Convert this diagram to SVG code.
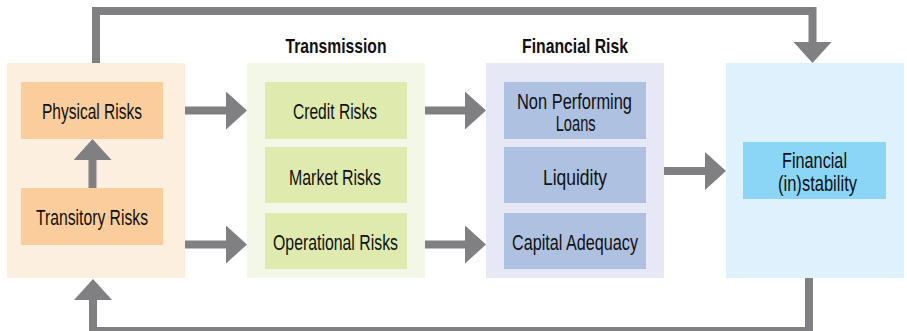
<svg xmlns="http://www.w3.org/2000/svg" width="907" height="331" viewBox="0 0 907 331">
<style>
text{font-family:"Liberation Sans Narrow","Liberation Sans",Arial,sans-serif;font-size:21.5px;fill:#111;text-anchor:middle}
.title{font-weight:bold;font-size:21px}
.conn{fill:none;stroke:#808083;stroke-width:8}
.p1{fill:#FDEFE0}.b1{fill:#FCCD9C}
.p2{fill:#F2F7E7}.b2{fill:#DFEAAF}
.p3{fill:#E6E8F5}.b3{fill:#AFC1E1}
.p4{fill:#DFF1FC}.b4{fill:#8BD6F6}
</style>
<defs>
<marker id="ah" markerUnits="userSpaceOnUse" markerWidth="21" markerHeight="38" refX="0" refY="19" orient="auto" viewBox="0 0 21 38">
<path d="M0,0 L21,19 L0,38 Z" fill="#808083"/>
</marker>
</defs>
<rect width="907" height="331" fill="#fff"/>
<g id="panel-climate">
<rect class="p1" x="7" y="63" width="178" height="215"/>
</g>
<g id="panel-transmission">
<rect class="p2" x="247" y="63" width="178" height="215"/>
<text class="title" x="336" y="53" textLength="101" lengthAdjust="spacingAndGlyphs">Transmission</text>
</g>
<g id="panel-financial-risk">
<rect class="p3" x="486" y="63" width="178" height="215"/>
<text class="title" x="575" y="53" textLength="106" lengthAdjust="spacingAndGlyphs">Financial Risk</text>
</g>
<g id="panel-instability">
<rect class="p4" x="726" y="63" width="178" height="215"/>
</g>
<g id="physical-risks">
<rect class="b1" x="21" y="82" width="142" height="57"/>
<text x="92" y="119" textLength="100" lengthAdjust="spacingAndGlyphs">Physical Risks</text>
</g>
<g id="transitory-risks">
<rect class="b1" x="21" y="188" width="142" height="57"/>
<text x="92" y="225" textLength="112" lengthAdjust="spacingAndGlyphs">Transitory Risks</text>
</g>
<g id="credit-risks">
<rect class="b2" x="265" y="82" width="142" height="57"/>
<text x="335" y="119" textLength="84" lengthAdjust="spacingAndGlyphs">Credit Risks</text>
</g>
<g id="market-risks">
<rect class="b2" x="265" y="147" width="142" height="56"/>
<text x="335" y="184.5" textLength="92" lengthAdjust="spacingAndGlyphs">Market Risks</text>
</g>
<g id="operational-risks">
<rect class="b2" x="265" y="213" width="142" height="56"/>
<text x="335.5" y="249.5" textLength="125" lengthAdjust="spacingAndGlyphs">Operational Risks</text>
</g>
<g id="non-performing-loans">
<rect class="b3" x="504" y="82" width="142" height="57"/>
<text x="574.5" y="108.5" textLength="115" lengthAdjust="spacingAndGlyphs">Non Performing</text>
<text x="575.7" y="130.5" textLength="40" lengthAdjust="spacingAndGlyphs">Loans</text>
</g>
<g id="liquidity">
<rect class="b3" x="504" y="147" width="142" height="56"/>
<text x="575" y="184.5" textLength="64" lengthAdjust="spacingAndGlyphs">Liquidity</text>
</g>
<g id="capital-adequacy">
<rect class="b3" x="504" y="213" width="142" height="56"/>
<text x="575" y="249.5" textLength="126" lengthAdjust="spacingAndGlyphs">Capital Adequacy</text>
</g>
<g id="financial-instability">
<rect class="b4" x="743" y="142" width="143" height="57"/>
<text x="814.5" y="168" textLength="65" lengthAdjust="spacingAndGlyphs">Financial</text>
<text x="817.5" y="191" textLength="79" lengthAdjust="spacingAndGlyphs">(in)stability</text>
</g>
<g id="connectors">
<line class="conn" x1="92.5" y1="188" x2="92.5" y2="160" marker-end="url(#ah)"/>
<line class="conn" x1="185" y1="110.5" x2="226" y2="110.5" marker-end="url(#ah)"/>
<line class="conn" x1="185" y1="244.5" x2="226" y2="244.5" marker-end="url(#ah)"/>
<line class="conn" x1="425" y1="110.5" x2="465" y2="110.5" marker-end="url(#ah)"/>
<line class="conn" x1="425" y1="244.5" x2="465" y2="244.5" marker-end="url(#ah)"/>
<line class="conn" x1="664" y1="171" x2="705" y2="171" marker-end="url(#ah)"/>
<path class="conn" d="M96,63 V11 H812.5 V42" marker-end="url(#ah)"/>
<path class="conn" d="M809,278 V331 H93 V300" marker-end="url(#ah)"/>
</g>
</svg>
